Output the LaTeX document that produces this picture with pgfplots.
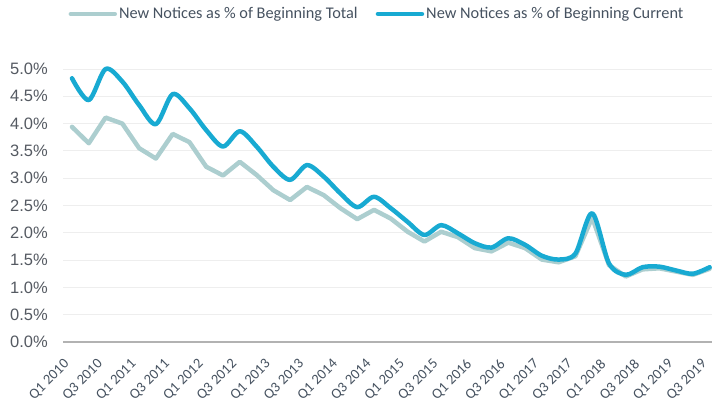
\documentclass[border=0pt]{standalone}
\usepackage{pgfplots}
\pgfplotsset{compat=1.18}
\usepackage{fontspec}
\setmainfont{Carlito}
\newfontfamily\yfont{Liberation Sans}
\definecolor{curblue}{RGB}{24,170,210}
\definecolor{totgrey}{RGB}{172,206,207}
\definecolor{ticktxt}{RGB}{70,82,96}
\definecolor{ytxt}{RGB}{85,90,98}
\definecolor{gridc}{RGB}{238,238,238}
\definecolor{axisc}{RGB}{178,178,178}
\pgfplotstableread{
i cur tot
0 4.83 3.94
1 4.43 3.64
2 5.00 4.11
3 4.77 4.00
4 4.34 3.55
5 3.99 3.36
6 4.54 3.81
7 4.28 3.66
8 3.88 3.21
9 3.58 3.05
10 3.86 3.30
11 3.58 3.06
12 3.21 2.78
13 2.97 2.60
14 3.24 2.84
15 3.03 2.69
16 2.72 2.45
17 2.47 2.25
18 2.66 2.42
19 2.45 2.26
20 2.20 2.02
21 1.96 1.84
22 2.14 2.02
23 1.99 1.92
24 1.81 1.72
25 1.73 1.66
26 1.90 1.82
27 1.78 1.72
28 1.58 1.51
29 1.51 1.46
30 1.62 1.57
31 2.36 2.28
32 1.44 1.41
33 1.23 1.20
34 1.37 1.33
35 1.38 1.35
36 1.31 1.29
37 1.25 1.23
38 1.37 1.34
}\datatable
\begin{document}
\begin{tikzpicture}
\begin{axis}[
  at={(63bp,68bp)}, anchor=south west,
  scale only axis,
  width=649bp, height=273bp,
  xmin=-0.536, xmax=38.14,
  ymin=0, ymax=5,
  clip=false,
  axis x line*=bottom, axis y line*=left,
  y axis line style={draw=none},
  x axis line style={draw=axisc, line width=1.6bp},
  major tick length=0pt,
  ytick={0,0.5,...,5.0},
  ymajorgrids,
  grid style={draw=gridc, line width=0.9bp},
  /pgf/number format/assume math mode=true,
  yticklabel={\pgfmathprintnumber[fixed,fixed zerofill,precision=1]{\tick}\%},
  yticklabel style={font=\yfont\fontsize{16.5bp}{18bp}\selectfont, text=ytxt, anchor=east, inner sep=0pt, xshift=-15bp},
  xtick={0,2,...,38},
  xticklabels={Q1 2010,Q3 2010,Q1 2011,Q3 2011,Q1 2012,Q3 2012,Q1 2013,Q3 2013,Q1 2014,Q3 2014,Q1 2015,Q3 2015,Q1 2016,Q3 2016,Q1 2017,Q3 2017,Q1 2018,Q3 2018,Q1 2019,Q3 2019},
  xticklabel style={font=\fontsize{14.5bp}{16bp}\selectfont, text=ticktxt, rotate=45, anchor=east, inner sep=0pt, xshift=-17.7bp, yshift=-10.6bp},
  legend style={draw=none, fill=none, at={(0.4838,1.2015)}, anchor=center,
    legend columns=2, font=\fontsize{16.3bp}{18bp}\selectfont, text=ticktxt,
    nodes={inner sep=2bp},
    /tikz/every even column/.append style={column sep=16bp}},
  legend image code/.code={\draw[#1, line width=4.5bp, line cap=round] (0bp,0bp) -- (44bp,0bp);},
]
\addplot[totgrey, line width=4.5bp, line join=round, line cap=round] table[x=i, y=tot] {\datatable};
\addlegendentry{New Notices as \% of Beginning Total}
\addplot[curblue, line width=4.5bp, smooth, line join=round, line cap=round] table[x=i, y=cur] {\datatable};
\addlegendentry{New Notices as \% of Beginning Current}
\end{axis}
\pgfresetboundingbox
\path[use as bounding box] (0bp,0bp) rectangle (712bp,410bp);
\end{tikzpicture}
\end{document}
